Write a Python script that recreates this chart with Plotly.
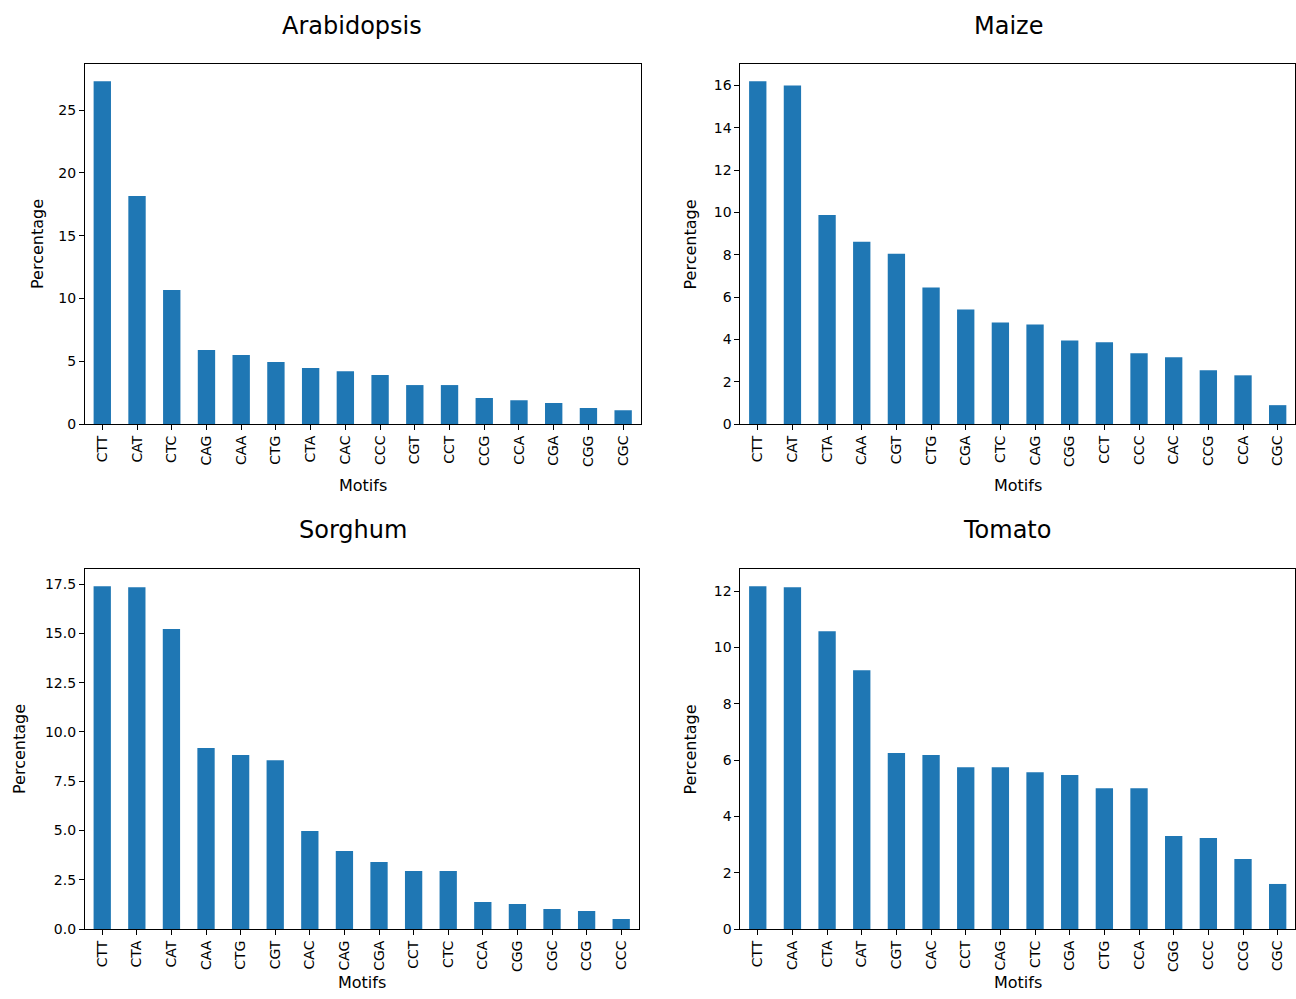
import plotly.graph_objects as go

W, H = 1296, 999
H_EFF = 991  # effective rendered height used for pixel -> paper conversion

# ---- data ----
arab_motifs = ["CTT", "CAT", "CTC", "CAG", "CAA", "CTG", "CTA", "CAC", "CCC", "CGT", "CCT", "CCG", "CCA", "CGA", "CGG", "CGC"]
arab_values = [27.3, 18.15, 10.67, 5.9, 5.5, 4.94, 4.46, 4.2, 3.9, 3.1, 3.1, 2.07, 1.9, 1.67, 1.27, 1.1]

maize_motifs = ["CTT", "CAT", "CTA", "CAA", "CGT", "CTG", "CGA", "CTC", "CAG", "CGG", "CCT", "CCC", "CAC", "CCG", "CCA", "CGC"]
maize_values = [16.2, 16.0, 9.88, 8.61, 8.05, 6.45, 5.41, 4.8, 4.7, 3.95, 3.86, 3.34, 3.15, 2.54, 2.3, 0.89]

sorghum_motifs = ["CTT", "CTA", "CAT", "CAA", "CTG", "CGT", "CAC", "CAG", "CGA", "CCT", "CTC", "CCA", "CGG", "CGC", "CCG", "CCC"]
sorghum_values = [17.4, 17.35, 15.22, 9.18, 8.83, 8.57, 4.97, 3.96, 3.4, 2.94, 2.94, 1.37, 1.27, 1.01, 0.91, 0.51]

tomato_motifs = ["CTT", "CAA", "CTA", "CAT", "CGT", "CAC", "CCT", "CAG", "CTC", "CGA", "CTG", "CCA", "CGG", "CCC", "CCG", "CGC"]
tomato_values = [12.18, 12.14, 10.58, 9.19, 6.25, 6.18, 5.75, 5.75, 5.57, 5.47, 5.0, 5.0, 3.3, 3.23, 2.49, 1.6]

titles = ["Arabidopsis", "Maize", "Sorghum", "Tomato"]

# ---- layout geometry (pixels) ----
panels = [
    dict(m=arab_motifs, v=arab_values, x0=85, x1=641, y0=64, y1=424, dtick=5, fmt="d",
         title_x=352, title_y=26, ylab_x=37, xlab_y=485),
    dict(m=maize_motifs, v=maize_values, x0=741, x1=1296, y0=64, y1=424, dtick=2, fmt="d",
         title_x=1009, title_y=26, ylab_x=691, xlab_y=485),
    dict(m=sorghum_motifs, v=sorghum_values, x0=85, x1=639, y0=569, y1=929, dtick=2.5, fmt=".1f",
         title_x=353, title_y=530, ylab_x=19, xlab_y=982),
    dict(m=tomato_motifs, v=tomato_values, x0=741, x1=1296, y0=569, y1=929, dtick=2, fmt="d",
         title_x=1008, title_y=530, ylab_x=691, xlab_y=982),
]


def py(px):
    return 1 - px / H_EFF


FONT = "DejaVu Sans"
fig = go.Figure()
annotations = []
layout = dict(
    width=W, height=H,
    margin=dict(l=0, r=0, t=0, b=0),
    paper_bgcolor="white", plot_bgcolor="white",
    showlegend=False,
    font=dict(family=FONT, size=14, color="black"),
    bargap=0.5,
)

for i, p in enumerate(panels):
    n = i + 1
    xa = "x" if n == 1 else f"x{n}"
    ya = "y" if n == 1 else f"y{n}"
    fig.add_trace(go.Bar(
        x=list(range(len(p["m"]))), y=p["v"], xaxis=xa, yaxis=ya,
        marker=dict(color="#1f77b4", line=dict(width=0)), width=0.5,
    ))
    ymax = max(p["v"]) * 1.05
    layout[f"xaxis{'' if n == 1 else n}"] = dict(
        domain=[p["x0"] / W, p["x1"] / W],
        anchor=ya, range=[-0.5, len(p["m"]) - 0.5],
        tickmode="array", tickvals=list(range(len(p["m"]))), ticktext=p["m"],
        tickangle=-90, ticks="outside", ticklen=5, tickcolor="black",
        showline=True, linecolor="black", linewidth=1, mirror=True,
        showgrid=False, zeroline=False, tickfont=dict(size=14, family=FONT),
        fixedrange=True,
    )
    layout[f"yaxis{'' if n == 1 else n}"] = dict(
        domain=[py(p["y1"]), py(p["y0"])],
        anchor=xa, range=[0, ymax],
        dtick=p["dtick"], tick0=0, tickformat=p["fmt"],
        ticks="outside", ticklen=5, tickcolor="black",
        showline=True, linecolor="black", linewidth=1, mirror=True,
        showgrid=False, zeroline=False, tickfont=dict(size=14, family=FONT),
        fixedrange=True,
    )
    # subplot title
    annotations.append(dict(
        text=titles[i], x=p["title_x"] / W, y=py(p["title_y"]),
        xref="paper", yref="paper", xanchor="center", yanchor="middle",
        showarrow=False, font=dict(size=24, family=FONT, color="black"),
    ))
    # x label
    annotations.append(dict(
        text="Motifs", x=(p["x0"] + p["x1"]) / 2 / W, y=py(p["xlab_y"]),
        xref="paper", yref="paper", xanchor="center", yanchor="middle",
        showarrow=False, font=dict(size=16, family=FONT, color="black"),
    ))
    # y label
    annotations.append(dict(
        text="Percentage", x=p["ylab_x"] / W, y=py((p["y0"] + p["y1"]) / 2),
        xref="paper", yref="paper", xanchor="center", yanchor="middle",
        textangle=-90,
        showarrow=False, font=dict(size=16, family=FONT, color="black"),
    ))

layout["annotations"] = annotations
fig.update_layout(**layout)
fig.write_html("out.html")
